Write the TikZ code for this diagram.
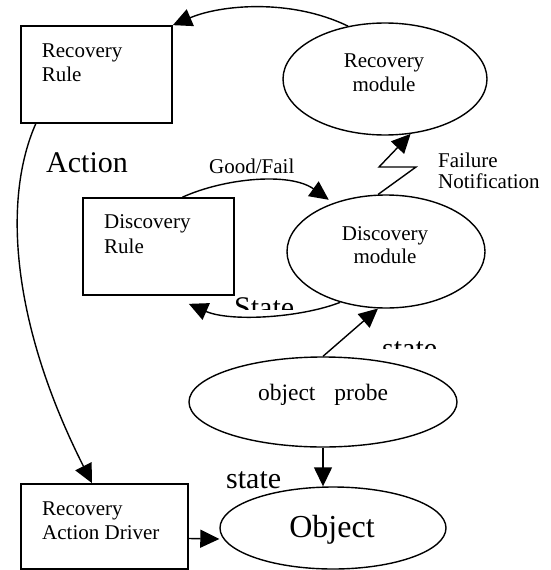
\documentclass[tikz,border=0pt]{standalone}
\usepackage{fontspec}
\setmainfont{Liberation Serif}
\usetikzlibrary{shapes.geometric,arrows.meta}
\newcommand\twoleft[3]{\vtop{\baselineskip=#3\halign{##\hfil\cr#1\cr#2\cr}}}
\newcommand\twocent[3]{\vtop{\baselineskip=#3\halign{\hfil##\hfil\cr#1\cr#2\cr}}}
\tikzset{
  boxnode/.style={draw,line width=1.7pt,rectangle,inner sep=0pt},
  ellnode/.style={draw,line width=1.4pt,ellipse,inner sep=0pt},
  txt/.style={inner sep=0pt,font=\fontsize{21}{24}\selectfont},
  bigtxt/.style={inner sep=0pt,font=\fontsize{30}{34}\selectfont},
  arr/.style={line width=1.4pt,-{Triangle[length=19pt 0,width=18pt 0]}},
  plain/.style={line width=1.4pt}
}
\begin{document}
\begin{tikzpicture}[x=1pt,y=-1pt]
\useasboundingbox (0,0) rectangle (551,570);
% boxes
\node[boxnode,minimum width=151.3pt,minimum height=96.7pt] (recrule) at (96.35,74.35) {};
\node[boxnode,minimum width=151pt,minimum height=97pt] (disrule) at (158.5,246.5) {};
\node[boxnode,minimum width=167pt,minimum height=85pt] (driver) at (104.5,526.5) {};
% ellipses
\node[ellnode,minimum width=204pt,minimum height=112pt] (recmod) at (385,79) {};
\node[ellnode,minimum width=198pt,minimum height=113pt] (dismod) at (386,251.5) {};
\node[ellnode,minimum width=268pt,minimum height=90pt] (probe) at (323,402) {};
\node[ellnode,minimum width=226pt,minimum height=82pt] (object) at (333,528) {};
% texts
\node[txt,anchor=base west] (trr) at (41.7,57) {\twoleft{Recovery}{Rule}{24pt}};
\node[txt,anchor=base] (trm) at (384,67) {\twocent{Recovery}{module}{24pt}};
\node[txt,anchor=base west] (tdr) at (104,228) {\twoleft{Discovery}{Rule}{25pt}};
\node[txt,anchor=base] (tdm) at (385,240) {\twocent{Discovery}{module}{23pt}};
\node[txt,anchor=base west] (tfn) at (438,167) {\twoleft{Failure}{Notification}{21pt}};
\node[txt,anchor=base west] (tgf) at (209,173) {Good/Fail};
\node[txt,anchor=base west] (tdrv) at (42,515) {\twoleft{Recovery}{Action Driver}{24pt}};
\node[inner sep=0pt,font=\fontsize{23.5}{27}\selectfont,anchor=base] (tpr) at (323,400) {object\hspace{19pt}probe};
\node[bigtxt,anchor=base west] (tact) at (46,172) {Action};
\node[bigtxt,anchor=base west] (tst3) at (226,488) {state};
\node[inner sep=0pt,font=\fontsize{32}{36}\selectfont,anchor=base] (tobj) at (332,537) {Object};
\begin{scope}
\clip (225,285) rectangle (310,309);
\node[bigtxt,anchor=base west] (tst1) at (234,317) {State};
\end{scope}
\begin{scope}
\clip (375,330) rectangle (445,348);
\node[bigtxt,anchor=base west] (tst2) at (382,358) {state};
\end{scope}
% connectors
\draw[arr] (recmod.125) .. controls (290,-2) and (220,5) .. (recrule.north east);
\draw[arr] ([xshift=16pt]recrule.south west) .. controls (2,200) and (12,325) .. ([xshift=-12.5pt]driver.north);
\draw[arr] ([xshift=24pt]disrule.north) .. controls (225,178) and (290,172) .. ([shift={(-5,-3)}]dismod.137);
\coordinate (zA) at (416,167);
\coordinate (zB) at (379,167);
\draw[arr] (dismod.98) -- (zA) -- (zB) -- (recmod.-65);
\draw[arr] (dismod.228) .. controls (300,318) and (230,322) .. ([shift={(-46,8)}]disrule.south east);
\draw[arr] (probe.north) -- (dismod.262);
\draw[arr] (probe.south) -- (probe.south |- object.north);
\draw[arr] ([yshift=-12pt]driver.east) -- ([yshift=-11pt]object.west);
\end{tikzpicture}
\end{document}
